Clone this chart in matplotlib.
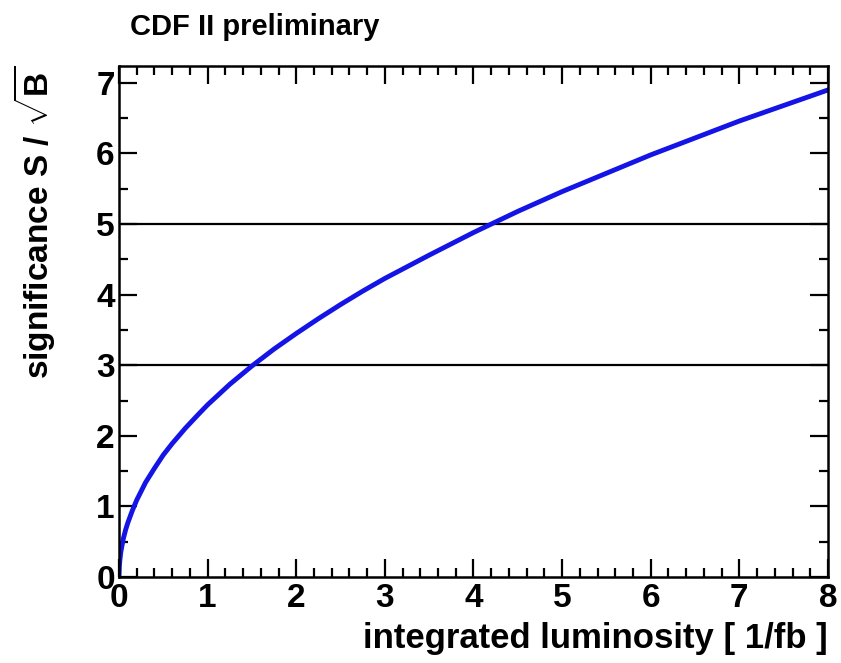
import matplotlib
matplotlib.use("Agg")
import matplotlib.pyplot as plt
from matplotlib.ticker import MultipleLocator

plt.rcParams['font.family'] = 'Liberation Sans'
plt.rcParams['font.weight'] = 'bold'
plt.rcParams['mathtext.fontset'] = 'custom'
plt.rcParams['mathtext.rm'] = 'Liberation Sans:bold'
plt.rcParams['mathtext.bf'] = 'Liberation Sans:bold'

# expected significance vs integrated luminosity
lumi = [0, 0.005, 0.01, 0.02, 0.03, 0.05, 0.075, 0.1, 0.15, 0.2, 0.3, 0.4,
        0.5, 0.6, 0.75, 0.9, 1.0, 1.25, 1.5, 1.75, 2.0, 2.25, 2.5, 2.75,
        3.0, 3.5, 4.0, 4.5, 5.0, 5.5, 6.0, 6.5, 7.0, 7.5, 8.0]
signif = [0, 0.17, 0.24, 0.35, 0.42, 0.55, 0.67, 0.77, 0.94, 1.09, 1.34, 1.54,
          1.73, 1.89, 2.11, 2.31, 2.44, 2.73, 2.99, 3.23, 3.45, 3.66, 3.86, 4.05,
          4.23, 4.56, 4.88, 5.18, 5.46, 5.72, 5.98, 6.22, 6.46, 6.68, 6.90]
ref_levels = [3, 5]

fig = plt.figure(figsize=(8.41, 6.63), dpi=100)
ax = fig.add_axes([0.1415, 0.1297, 0.843, 0.7708])

for lev in ref_levels:
    ax.axhline(lev, color='black', lw=1.6, zorder=1)
ax.plot(lumi, signif, color='#1414e6', lw=3.5, zorder=2,
        solid_joinstyle='round')

ax.set_xlim(0, 8)
ax.set_ylim(0, 7.24)
ax.xaxis.set_major_locator(MultipleLocator(1))
ax.xaxis.set_minor_locator(MultipleLocator(0.2))
ax.yaxis.set_major_locator(MultipleLocator(1))
ax.yaxis.set_minor_locator(MultipleLocator(0.5))
ax.tick_params(which='both', direction='in', top=True, right=True,
               width=1.6, labelsize=24)
ax.tick_params(which='major', length=13)
ax.tick_params(which='minor', length=6.5)
ax.tick_params(axis='x', pad=4)
ax.tick_params(axis='y', pad=3)
for s in ax.spines.values():
    s.set_linewidth(1.8)

ax.set_xlabel('integrated luminosity [ 1/fb ]', fontsize=25, fontweight='bold',
              loc='right', labelpad=6)
ax.set_ylabel(r'significance S / $\sqrt{\mathrm{B}}$', fontsize=24,
              fontweight='bold', loc='top', labelpad=28)

fig.text(0.155, 0.96, 'CDF II preliminary', fontsize=21, fontweight='bold',
         va='center', ha='left')

fig.savefig('out.png', dpi=100)
